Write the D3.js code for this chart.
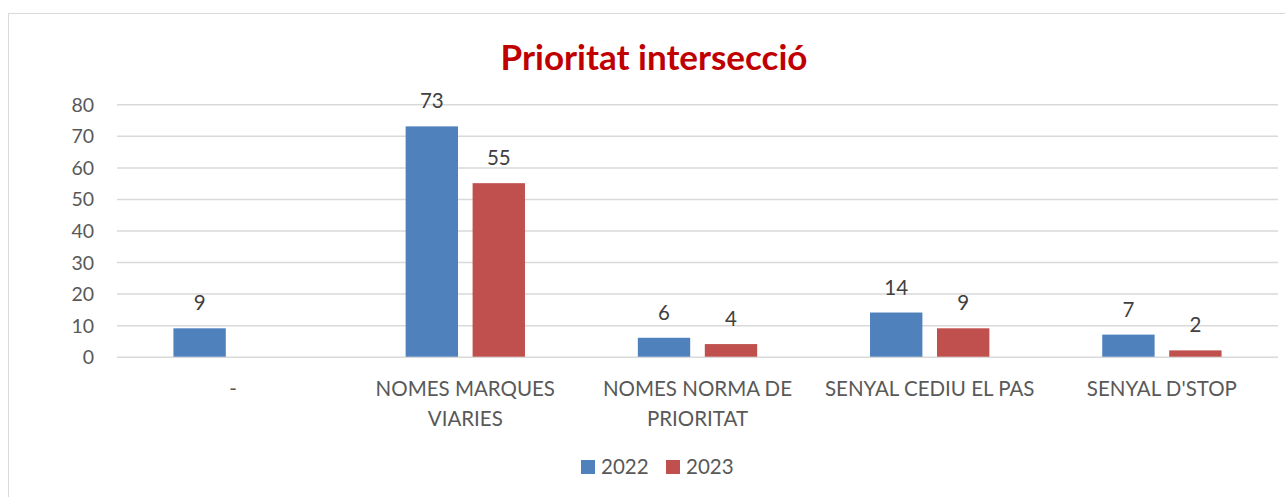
<!DOCTYPE html>
<html>
<head>
<meta charset="utf-8">
<script src="https://cdn.jsdelivr.net/npm/d3@7"></script>
<style>
  html, body { margin: 0; padding: 0; background: #fff; }
  svg { display: block; }
</style>
</head>
<body>
<svg id="chart" width="1285" height="497"></svg>
<script>
// Intersection priority counts by year
const categories = ["-", "NOMES MARQUES VIARIES", "NOMES NORMA DE PRIORITAT", "SENYAL CEDIU EL PAS", "SENYAL D'STOP"];
const categoryLines = [["-"], ["NOMES MARQUES", "VIARIES"], ["NOMES NORMA DE", "PRIORITAT"], ["SENYAL CEDIU EL PAS"], ["SENYAL D'STOP"]];
const seriesNames = ["2022", "2023"];
const values2022 = [9, 73, 6, 14, 7];
const values2023 = [null, 55, 4, 9, 2];
const yTicks = [0, 10, 20, 30, 40, 50, 60, 70, 80];
const colors = ["#4F81BD", "#C0504D"];

const font = "Lato, 'Open Sans', sans-serif";
const svg = d3.select("#chart");

// chart area frame
svg.append("rect")
  .attr("x", 8.5).attr("y", 13.5)
  .attr("width", 1300).attr("height", 500)
  .attr("fill", "#fff").attr("stroke", "#D9D9D9").attr("stroke-width", 1);

const plot = { left: 117, right: 1278, top: 104.3, bottom: 356.7 };

const x = d3.scaleBand().domain(categories)
  .range([plot.left, plot.right]).paddingInner(0.486).paddingOuter(0.243);
const xs = d3.scaleBand().domain(seriesNames)
  .range([0, x.bandwidth()]).paddingInner(0.218);
const y = d3.scaleLinear().domain([0, 80]).range([plot.bottom, plot.top]);

// gridlines + y tick labels via axis
const yAxis = d3.axisLeft(y).tickValues(yTicks).tickSize(-(plot.right - plot.left)).tickPadding(23);
const gy = svg.append("g").attr("transform", `translate(${plot.left},0)`).call(yAxis);
gy.select(".domain").remove();
gy.selectAll(".tick line").attr("stroke", "#D9D9D9").attr("stroke-width", 1.5);
gy.selectAll(".tick text")
  .attr("fill", "#595959").attr("font-family", font).attr("font-size", 19.5)
  .attr("dy", "0.36em");

// title
svg.append("text")
  .attr("x", 654).attr("y", 69.5)
  .attr("text-anchor", "middle")
  .attr("font-family", font).attr("font-weight", "bold").attr("font-size", 35)
  .attr("fill", "#C00000")
  .text("Prioritat intersecció");

const rows = categories.map((c, i) => ({ cat: c, vals: [values2022[i], values2023[i]] }));

const groups = svg.append("g").selectAll("g").data(rows).join("g")
  .attr("transform", d => `translate(${x(d.cat)},0)`);

groups.selectAll("rect")
  .data(d => d.vals.map((v, j) => ({ v, s: seriesNames[j], j })).filter(e => e.v != null))
  .join("rect")
  .attr("x", e => xs(e.s))
  .attr("width", xs.bandwidth())
  .attr("y", e => y(e.v))
  .attr("height", e => y(0) - y(e.v))
  .attr("fill", e => colors[e.j]);

groups.selectAll("text.val")
  .data(d => d.vals.map((v, j) => ({ v, s: seriesNames[j], j })).filter(e => e.v != null))
  .join("text")
  .attr("class", "val")
  .attr("x", e => xs(e.s) + xs.bandwidth() / 2)
  .attr("y", e => y(e.v) - 18)
  .attr("text-anchor", "middle")
  .attr("font-family", font).attr("font-size", 20.5)
  .attr("fill", "#404040")
  .text(e => e.v);

// category labels
const catG = svg.append("g");
categories.forEach((c, i) => {
  const cx = x(c) + x.bandwidth() / 2;
  const t = catG.append("text")
    .attr("x", cx)
    .attr("y", 396)
    .attr("text-anchor", "middle")
    .attr("font-family", font).attr("font-size", 20.5)
    .attr("fill", "#595959");
  categoryLines[i].forEach((line, k) => {
    t.append("tspan").attr("x", cx).attr("dy", k === 0 ? 0 : 30).text(line);
  });
});

// legend
const legend = svg.append("g");
const legendX = [581, 666];
seriesNames.forEach((s, j) => {
  legend.append("rect")
    .attr("x", legendX[j]).attr("y", 460)
    .attr("width", 14).attr("height", 14)
    .attr("fill", colors[j]);
  legend.append("text")
    .attr("x", legendX[j] + 20).attr("y", 474)
    .attr("font-family", font).attr("font-size", 20.5)
    .attr("fill", "#595959")
    .text(s);
});
</script>
</body>
</html>
